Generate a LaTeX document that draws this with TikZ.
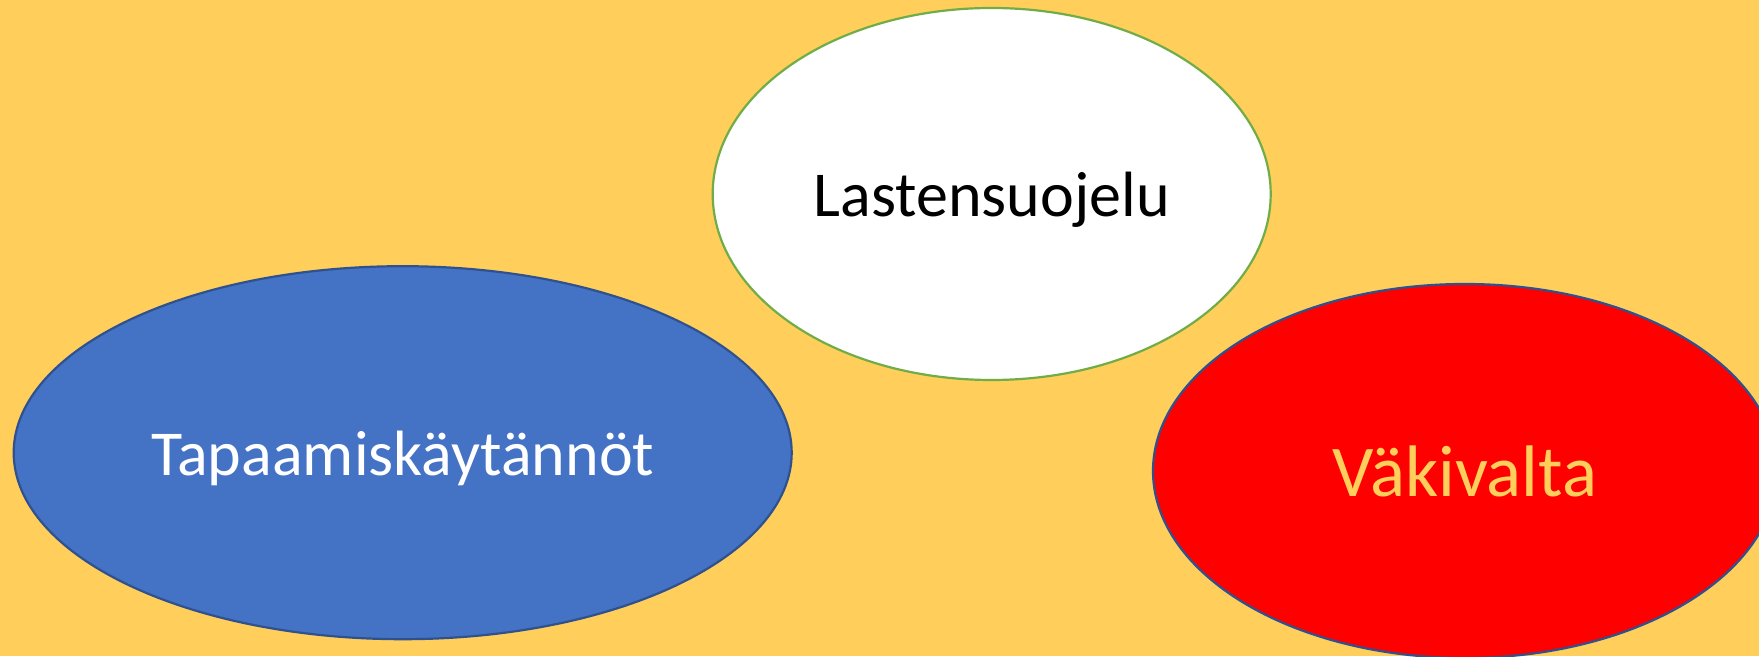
\documentclass[tikz,border=0pt]{standalone}
\usepackage{fontspec}
\setmainfont{Carlito}
\usetikzlibrary{shapes.geometric}
\definecolor{bg}{HTML}{FFCE5B}
\definecolor{bluefill}{HTML}{4472C4}
\definecolor{blueline}{HTML}{2F528F}
\definecolor{greenline}{HTML}{70AD47}
\tikzset{
  blob/.style={ellipse, inner sep=0pt, line width=2.2pt},
  blobtext/.style={font=\fontsize{64}{77}\selectfont, inner sep=0pt, yshift=-6pt},
  bigtext/.style={font=\fontsize{73}{88}\selectfont, inner sep=0pt, yshift=0pt}
}
\begin{document}
\begin{tikzpicture}[x=1pt,y=1pt]
\useasboundingbox (0,0) rectangle (1759,656);
\clip (0,0) rectangle (1759,656);
\fill[bg] (0,0) rectangle (1759,656);
\node[blob, draw=greenline, fill=white, minimum width=558pt, minimum height=372pt,
  label={[blobtext, text=black]center:Lastensuojelu}] (ls) at (991.7,462) {};
\node[blob, draw=blueline, fill=bluefill, minimum width=778pt, minimum height=373pt,
  label={[blobtext, text=white]center:Tapaamiskäytännöt}] (tk) at (402.7,203.3) {};
\node[blob, draw=blueline, fill=red, minimum width=624pt, minimum height=374pt,
  label={[bigtext, text=bg]center:Väkivalta}] (vk) at (1465,185) {};
\end{tikzpicture}
\end{document}
